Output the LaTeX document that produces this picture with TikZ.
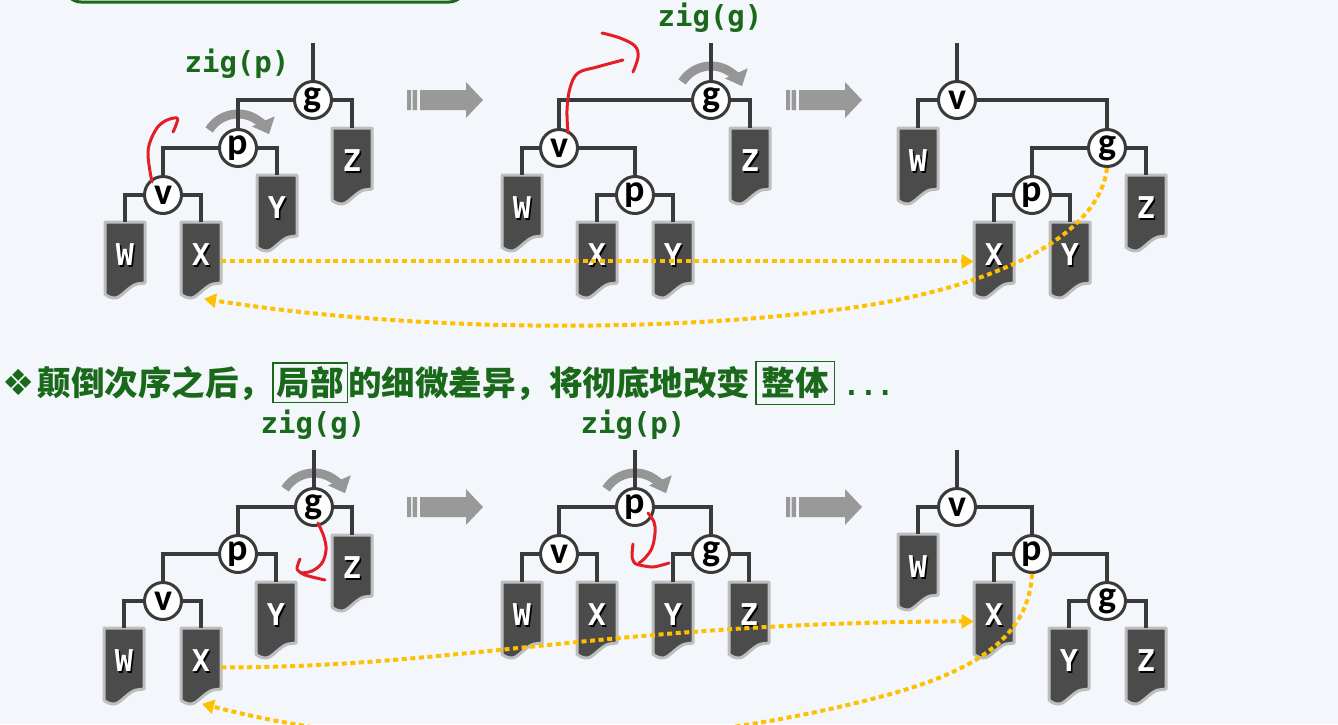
\documentclass[tikz,border=0pt]{standalone}
\usepackage{fontspec}
\usepackage{tikz}
\usetikzlibrary{arrows.meta,calc,positioning}
\usepackage{xcolor}

\newfontfamily\monofont{DejaVu Sans Mono}
\newfontfamily\knotfont{Carlito}
\newfontfamily\cjk{Noto Sans CJK SC}
\newfontfamily\symfont{DejaVu Sans}

\definecolor{bgcol}{RGB}{243,247,251}
\definecolor{edgecol}{RGB}{58,58,58}
\definecolor{leaffill}{RGB}{75,75,75}
\definecolor{leafrim}{RGB}{190,190,190}
\definecolor{rotgray}{RGB}{150,150,150}
\definecolor{arrowgray}{RGB}{153,153,153}
\definecolor{dotyellow}{RGB}{255,192,0}
\definecolor{inkred}{RGB}{228,30,38}
\definecolor{zgreen}{RGB}{26,104,26}

\pgfdeclarelayer{bg}
\pgfsetlayers{bg,main}

% white letter with a dark shadow
\newcommand\leafletter[1]{\rlap{\kern0.7pt\raisebox{-0.7pt}{\color{black}#1}}#1}

\tikzset{
  knot/.style={circle, draw=edgecol, fill=white, line width=1.5pt, minimum size=18.5pt,
    inner sep=0pt, font=\knotfont\bfseries\fontsize{19}{19}\selectfont},
  leaf/.style={anchor=north, minimum width=20pt, minimum height=33pt, inner sep=0pt,
    text=white, font=\monofont\bfseries\fontsize{15}{15}\selectfont},
  leafbody/.style={fill=leaffill, draw=leafrim, line width=1.5pt, line join=round},
  link/.style={draw=edgecol, line width=2pt},
  rotarc/.style={draw=rotgray, line width=4.5pt, -{Triangle[length=7pt,width=12pt]}},
  ziglabel/.style={text=zgreen, font=\monofont\bfseries\fontsize{14.5}{14.5}\selectfont},
  dotswap/.style={draw=dotyellow, line width=2pt, dash pattern=on 2.5pt off 1.8pt,
    -{Triangle[length=6pt,width=7pt]}},
  redink/.style={draw=inkred, line width=1.5pt, line cap=round, line join=round},
}

\begin{document}
\begin{tikzpicture}[x=0.5pt, y=-0.5pt]
\useasboundingbox (0,0) rectangle (1338,724);
\clip (0,0) rectangle (1338,724);
\begin{pgfonlayer}{bg}
\fill[bgcol] (0,0) rectangle (1338,724);
\end{pgfonlayer}

% box cut off at the top
\draw[zgreen, line width=1.5pt, rounded corners=8pt] (65,-30) rectangle (465,2);

%% top row
% tree A: before zig(p)
\node[knot] (Ag) at (313,100) {g};
\node[knot] (Ap) at (238,148) {p};
\node[knot] (Av) at (163,195) {v};
\node[leaf] (AW) at (125,222) {\leafletter{W}};
\node[leaf] (AX) at (201,222) {\leafletter{X}};
\node[leaf] (AY) at (277,175) {\leafletter{Y}};
\node[leaf] (AZ) at (352,128) {\leafletter{Z}};
\coordinate (At) at (313,43);
\node[ziglabel] (Alab) at (237,64) {zig(p)};

% tree B: after zig(p)
\node[knot] (Bg) at (711,100) {g};
\node[knot] (Bv) at (559,148) {v};
\node[knot] (Bp) at (635,195) {p};
\node[leaf] (BW) at (522,175) {\leafletter{W}};
\node[leaf] (BX) at (597,222) {\leafletter{X}};
\node[leaf] (BY) at (673,222) {\leafletter{Y}};
\node[leaf] (BZ) at (750,128) {\leafletter{Z}};
\coordinate (Bt) at (711,43);
\node[ziglabel] (Blab) at (710,18) {zig(g)};

% tree C: after zig(g)
\node[knot] (Cv) at (957,100) {v};
\node[knot] (Cg) at (1107,148) {g};
\node[knot] (Cp) at (1032,195) {p};
\node[leaf] (CW) at (918,128) {\leafletter{W}};
\node[leaf] (CX) at (994,222) {\leafletter{X}};
\node[leaf] (CY) at (1070,222) {\leafletter{Y}};
\node[leaf] (CZ) at (1146,175) {\leafletter{Z}};
\coordinate (Ct) at (957,43);

% remark line
\node[anchor=west, inner sep=0pt, text=zgreen] (remark) at (2,383)
  {{\symfont\fontsize{18}{18}\selectfont ❖}\hspace{1.5pt}%
   {\cjk\bfseries\fontsize{16.75}{16.75}\selectfont\fboxsep=1.5pt\fboxrule=0.75pt
    颠倒次序之后，\fcolorbox{zgreen}{bgcol}{局部}的细微差异，将彻底地改变\hspace{2.5pt}\fboxsep=2.5pt\fcolorbox{zgreen}{bgcol}{整体}}%
   \hspace{4pt}{\monofont\bfseries\fontsize{14}{14}\selectfont ...}};

%% bottom row
% tree D: before zig(g)
\node[knot] (Dg) at (314,507) {g};
\node[knot] (Dp) at (238,554) {p};
\node[knot] (Dv) at (163,601) {v};
\node[leaf] (DW) at (124,628) {\leafletter{W}};
\node[leaf] (DX) at (201,628) {\leafletter{X}};
\node[leaf] (DY) at (276,582) {\leafletter{Y}};
\node[leaf] (DZ) at (352,535) {\leafletter{Z}};
\coordinate (Dt) at (314,450);
\node[ziglabel] (Dlab) at (313,425) {zig(g)};

% tree E: after zig(g)
\node[knot] (Ep) at (635,507) {p};
\node[knot] (Ev) at (559,554) {v};
\node[knot] (Eg) at (711,554) {g};
\node[leaf] (EW) at (522,582) {\leafletter{W}};
\node[leaf] (EX) at (597,582) {\leafletter{X}};
\node[leaf] (EY) at (673,582) {\leafletter{Y}};
\node[leaf] (EZ) at (749,582) {\leafletter{Z}};
\coordinate (Et) at (635,450);
\node[ziglabel] (Elab) at (633,425) {zig(p)};

% tree F: after zig(p)
\node[knot] (Fv) at (957,507) {v};
\node[knot] (Fp) at (1032,554) {p};
\node[knot] (Fg) at (1107,601) {g};
\node[leaf] (FW) at (918,534) {\leafletter{W}};
\node[leaf] (FX) at (994,582) {\leafletter{X}};
\node[leaf] (FY) at (1069,628) {\leafletter{Y}};
\node[leaf] (FZ) at (1146,628) {\leafletter{Z}};
\coordinate (Ft) at (957,450);

% leaf bodies behind the letters
\begin{pgfonlayer}{bg}
\foreach \n in {AW,AX,AY,AZ,BW,BX,BY,BZ,CW,CX,CY,CZ,DW,DX,DY,DZ,EW,EX,EY,EZ,FW,FX,FY,FZ} {
  \path[leafbody, shift={(\n.north)}] (-20,0) -- (20,0) -- (20,61) -- (12,62)
    .. controls (4,64) and (-4,76) .. (-10,76) .. controls (-15,76) and (-18,74) .. (-20,72) -- cycle;
}
\end{pgfonlayer}

% rotation marks
\draw[rotarc] ($(Ap)+(212:34)$) arc[start angle=212, end angle=336, radius=34];
\draw[rotarc] ($(Bg)+(212:34)$) arc[start angle=212, end angle=336, radius=34];
\draw[rotarc] ($(Dg)+(212:34)$) arc[start angle=212, end angle=336, radius=34];
\draw[rotarc] ($(Ep)+(212:34)$) arc[start angle=212, end angle=336, radius=34];

% edges
\foreach \a/\b in {Ag/Ap, Ag/AZ, Ap/Av, Ap/AY, Av/AW, Av/AX,
                   Bg/Bv, Bg/BZ, Bv/BW, Bv/Bp, Bp/BX, Bp/BY,
                   Cv/CW, Cv/Cg, Cg/Cp, Cg/CZ, Cp/CX, Cp/CY,
                   Dg/Dp, Dg/DZ, Dp/Dv, Dp/DY, Dv/DW, Dv/DX,
                   Ep/Ev, Ep/Eg, Ev/EW, Ev/EX, Eg/EY, Eg/EZ,
                   Fv/FW, Fv/Fp, Fp/FX, Fp/Fg, Fg/FY, Fg/FZ} {
  \draw[link] (\a) -| (\b.north);
}
\foreach \t/\r in {At/Ag, Bt/Bg, Ct/Cv, Dt/Dg, Et/Ep, Ft/Fv} {
  \draw[link] (\t) -- (\r);
}

% step arrows
\foreach \x/\y in {407/100, 786/100, 407/507, 786/507} {
  \fill[arrowgray] (\x,\y-10) rectangle (\x+4,\y+10)
    (\x+5.5,\y-10) rectangle (\x+10,\y+10)
    (\x+13,\y-10) -- (\x+59,\y-10) -- (\x+59,\y-18) -- (\x+76,\y)
    -- (\x+59,\y+18) -- (\x+59,\y+10) -- (\x+13,\y+10) -- cycle;
}

% hand-drawn red marks
\draw[redink] plot[smooth, tension=0.6] coordinates {(152,182) (148,152) (155,131) (165,121) (177,118) (176,125) (173,132)};
\draw[redink] plot[smooth, tension=0.6] coordinates {(568,133) (567,110) (570,88) (578,73) (597,67) (623,60)};
\draw[redink] plot[smooth, tension=0.6] coordinates {(602,33) (620,38) (635,46) (638,57) (633,72)};
\draw[redink] plot[smooth, tension=0.6] coordinates {(318,523) (324,537) (326,550) (322,563) (312,571) (301,573)};
\draw[redink] plot[smooth, tension=0.4] coordinates {(300,559) (297,569) (305,575) (325,580)};
\draw[redink] plot[smooth, tension=0.6] coordinates {(648,513) (654,522) (655,533) (652,548) (645,558) (639,563)};
\draw[redink] plot[smooth, tension=0.4] coordinates {(633,544) (632,557) (636,564) (653,567) (669,563)};

% where the subtrees go
\draw[dotswap] ([yshift=-3pt]AX.east) -- ([yshift=-3pt]CX.west);
\draw[dotswap] (Cg.south) .. controls (1100,230) and (1010,285) .. (850,308)
  .. controls (650,335) and (400,330) .. ([xshift=1.5pt,yshift=-5pt]AX.south);
\draw[dotswap] ([yshift=-3pt]DX.east) .. controls (450,668) and (620,622) .. ([yshift=-3pt]FX.west);
\draw[dotswap] (Fp.south) .. controls (1028,650) and (950,680) .. (860,702)
  .. controls (640,756) and (400,755) .. ([xshift=0.5pt,yshift=-4.5pt]DX.south);
\end{tikzpicture}
\end{document}
